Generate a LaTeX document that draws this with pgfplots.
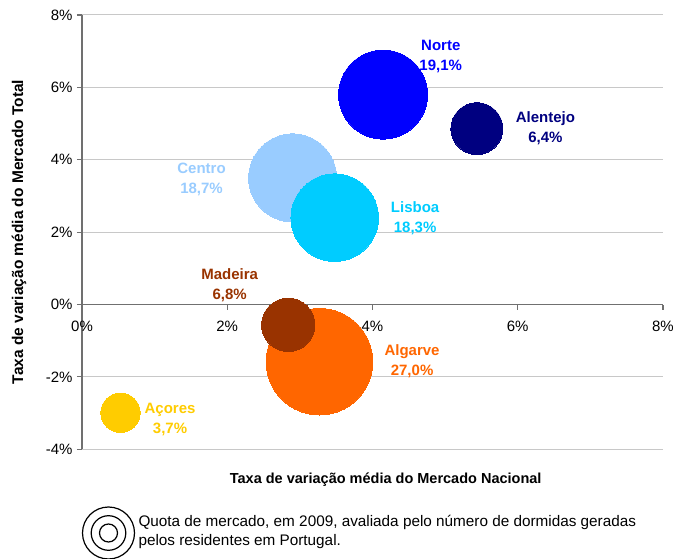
\documentclass[border=0pt]{standalone}
\usepackage{fontspec}
\setmainfont{Liberation Sans}
\usepackage{pgfplots}
\pgfplotsset{compat=1.18}
\definecolor{norte}{HTML}{0000FF}
\definecolor{alentejo}{HTML}{000080}
\definecolor{centro}{HTML}{99CCFF}
\definecolor{lisboa}{HTML}{00CCFF}
\definecolor{madeira}{HTML}{993300}
\definecolor{algarve}{HTML}{FF6600}
\definecolor{acores}{HTML}{FFCC00}
\definecolor{axisgray}{HTML}{707070}
\definecolor{gridgray}{HTML}{C8C8C8}
\begin{document}
\begin{tikzpicture}
\useasboundingbox (0pt,0pt) rectangle (673pt,558pt);
\begin{axis}[
  at={(82pt,108.7pt)}, anchor=south west,
  scale only axis, width=581pt, height=434.3pt,
  xmin=0, xmax=8, ymin=-4, ymax=8,
  axis x line=middle, axis y line=left,
  axis line style={-, axisgray, line width=1.1pt},
  hide obscured x ticks=false, hide obscured y ticks=false,
  xtick={0,2,4,6,8}, ytick={-4,-2,0,2,4,6,8},
  xticklabels={0\%,2\%,4\%,6\%,8\%},
  yticklabels={-4\%,-2\%,0\%,2\%,4\%,6\%,8\%},
  tick align=outside, major tick length=5pt,
  tick style={axisgray, line width=1.1pt},
  ymajorgrids, grid style={gridgray, line width=1pt},
  ticklabel style={font=\fontsize{15}{17}\selectfont},
  xticklabel style={yshift=-8pt},
  yticklabel style={xshift=-1pt},
  clip=false,
  every axis plot/.append style={only marks, mark=*, line width=0pt},
]
% bubbles: radius ~ sqrt(share)
\addplot[color=norte, mark size=44.5pt, mark options={fill=norte}] coordinates {(4.146,5.80)};
\addplot[color=alentejo, mark size=26pt, mark options={fill=alentejo}] coordinates {(5.437,4.86)};
\addplot[color=centro, mark size=44pt, mark options={fill=centro}] coordinates {(2.90,3.50)};
\addplot[color=lisboa, mark size=43.8pt, mark options={fill=lisboa}] coordinates {(3.48,2.40)};
\addplot[color=algarve, mark size=53.3pt, mark options={fill=algarve}] coordinates {(3.27,-1.58)};
\addplot[color=madeira, mark size=26.7pt, mark options={fill=madeira}] coordinates {(2.84,-0.56)};
\addplot[color=acores, mark size=19.7pt, mark options={fill=acores}] coordinates {(0.53,-2.99)};

\tikzset{lbl/.style={align=center, font=\bfseries\fontsize{15}{20}\selectfont}}
\node[lbl, text=norte] at (axis cs:4.94,6.86) {Norte\\19,1\%};
\node[lbl, text=alentejo] at (axis cs:6.38,4.885) {Alentejo\\6,4\%};
\node[lbl, text=centro] at (axis cs:1.646,3.45) {Centro\\18,7\%};
\node[lbl, text=lisboa] at (axis cs:4.587,2.39) {Lisboa\\18,3\%};
\node[lbl, text=madeira] at (axis cs:2.034,0.545) {Madeira\\6,8\%};
\node[lbl, text=algarve] at (axis cs:4.545,-1.576) {Algarve\\27,0\%};
\node[lbl, text=acores] at (axis cs:1.212,-3.17) {Açores\\3,7\%};
\end{axis}
% axis titles
\node[font=\bfseries\fontsize{14.5}{17}\selectfont] at (385.7pt,78pt) {Taxa de variação média do Mercado Nacional};
\node[rotate=90, font=\bfseries\fontsize{15.5}{18}\selectfont] at (19pt,326pt) {Taxa de variação média do Mercado Total};
% bubble-size key
\draw[line width=1.2pt] (108.5pt,25pt) circle (26pt) circle (17.3pt) circle (9pt);
\node[anchor=west, align=left, font=\fontsize{15.3}{19}\selectfont] at (135pt,26.5pt)
  {Quota de mercado, em 2009, avaliada pelo número de dormidas geradas\\pelos residentes em Portugal.};
\end{tikzpicture}
\end{document}
